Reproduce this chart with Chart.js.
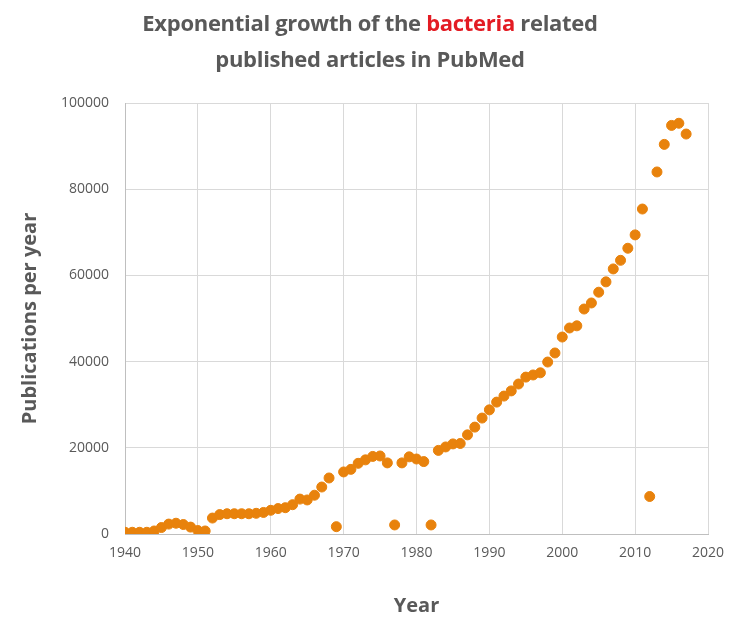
<!DOCTYPE html>
<html lang="en">
<head>
  <meta charset="UTF-8">
  <title>Exponential growth of bacteria related articles in PubMed</title>
  <script src="https://cdn.jsdelivr.net/npm/chart.js"></script>
  <style>
    body {
      margin: 0;
      background: #fff;
      font-family: 'Open Sans', Arial, sans-serif;
    }
    .wrap {
      position: relative;
      width: 730px;
      height: 619px;
    }
    .title {
      position: absolute;
      top: 4px;
      left: 0;
      width: 740px;
      text-align: center;
      font-weight: bold;
      font-size: 22px;
      line-height: 36px;
      color: #595959;
      letter-spacing: -0.3px;
    }
    .title .red { color: #e31b23; }
  </style>
</head>
<body>
  <div class="wrap">
    <canvas id="chart"></canvas>
    <div class="title">Exponential growth of the <span class="red">bacteria</span> related<br>published articles in PubMed</div>
  </div>

  <script>
    // year -> publications per year
    const years = [
      1940, 1941, 1942, 1943, 1944, 1945, 1946, 1947, 1948, 1949,
      1950, 1951, 1952, 1953, 1954, 1955, 1956, 1957, 1958, 1959,
      1960, 1961, 1962, 1963, 1964, 1965, 1966, 1967, 1968, 1969,
      1970, 1971, 1972, 1973, 1974, 1975, 1976, 1977, 1978, 1979,
      1980, 1981, 1982, 1983, 1984, 1985, 1986, 1987, 1988, 1989,
      1990, 1991, 1992, 1993, 1994, 1995, 1996, 1997, 1998, 1999,
      2000, 2001, 2002, 2003, 2004, 2005, 2006, 2007, 2008, 2009,
      2010, 2011, 2012, 2013, 2014, 2015, 2016, 2017
    ];
    const publications = [
      400, 400, 400, 400, 700, 1500, 2300, 2500, 2200, 1600,
      800, 700, 3700, 4500, 4700, 4700, 4700, 4700, 4800, 5000,
      5500, 5900, 6100, 6800, 8100, 7900, 9000, 10900, 13000, 1700,
      14400, 15000, 16400, 17200, 18000, 18100, 16500, 2100, 16500, 17900,
      17400, 16800, 2100, 19400, 20200, 20900, 21000, 23000, 24800, 26900,
      28800, 30600, 32000, 33200, 34800, 36400, 36900, 37400, 39900, 42000,
      45700, 47800, 48300, 52200, 53600, 56100, 58500, 61500, 63500, 66300,
      69400, 75400, 8700, 84000, 90400, 94800, 95300, 92800
    ];
    const xTicks = [1940, 1950, 1960, 1970, 1980, 1990, 2000, 2010, 2020];
    const yTicks = [0, 20000, 40000, 60000, 80000, 100000];

    const points = years.map((yr, i) => ({ x: yr, y: publications[i] }));

    const grey = '#595959';
    const tickFont = { family: "'Open Sans', sans-serif", size: 14 };
    const titleFont = { family: "'Open Sans', sans-serif", size: 20, weight: 'bold' };

    new Chart(document.getElementById('chart'), {
      type: 'scatter',
      data: {
        datasets: [{
          data: points,
          backgroundColor: '#e8820c',
          borderColor: '#e8820c',
          pointRadius: 5,
          pointHoverRadius: 5
        }]
      },
      options: {
        responsive: true,
        maintainAspectRatio: false,
        animation: false,
        layout: { padding: { top: 103, right: 22, left: 0, bottom: 0 } },
        plugins: {
          legend: { display: false },
          tooltip: { enabled: false }
        },
        scales: {
          x: {
            type: 'linear',
            min: 1940,
            max: 2020,
            afterBuildTicks: s => { s.ticks = xTicks.map(v => ({ value: v })); },
            afterFit: s => {
              s.height = 85;
              s.paddingLeft = 0;
              s.paddingRight = 0;
            },
            ticks: {
              color: grey,
              font: tickFont,
              padding: 11,
              maxRotation: 0,
              callback: v => String(v)
            },
            grid: { color: '#d9d9d9', drawTicks: false },
            border: { color: '#bfbfbf' },
            title: {
              display: true,
              text: 'Year',
              color: grey,
              font: titleFont,
              padding: { top: 0, bottom: 1 }
            }
          },
          y: {
            min: 0,
            max: 100000,
            afterBuildTicks: s => { s.ticks = yTicks.map(v => ({ value: v })); },
            afterFit: s => { s.width = 125; },
            ticks: {
              color: grey,
              font: tickFont,
              padding: 16,
              callback: v => String(v)
            },
            grid: { color: '#d9d9d9', drawTicks: false },
            border: { color: '#bfbfbf' },
            title: {
              display: true,
              text: 'Publications per year',
              color: grey,
              font: titleFont,
              padding: { top: 18, bottom: 0 }
            }
          }
        }
      }
    });
  </script>
</body>
</html>
